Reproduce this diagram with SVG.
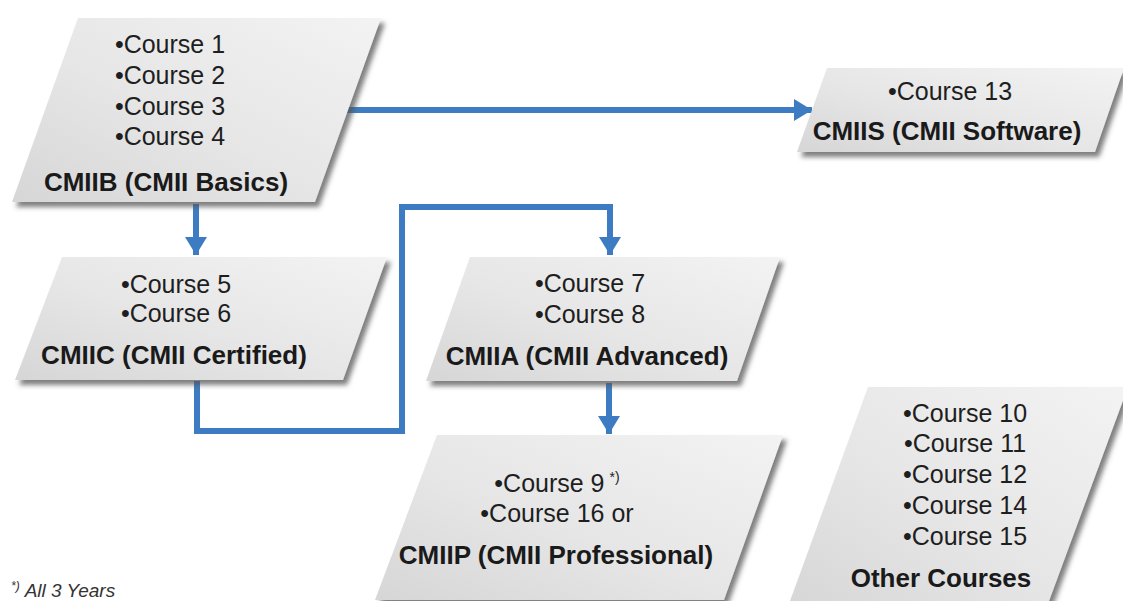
<svg xmlns="http://www.w3.org/2000/svg" width="1123" height="601" viewBox="0 0 1123 601">
  <style>
    .box { fill: url(#boxFill); filter: url(#boxShadow); }
    .item { font-family: "Liberation Sans", Arial, sans-serif; font-size: 25px; fill: #1e1e1e; text-anchor: middle; }
    .title { font-family: "Liberation Sans", Arial, sans-serif; font-size: 26px; font-weight: bold; fill: #1a1a1a; text-anchor: middle; }
    .sup { font-size: 14px; }
    .note { font-family: "Liberation Sans", Arial, sans-serif; font-size: 19px; font-style: italic; fill: #333333; }
    .link { fill: none; stroke: #3d7cc2; stroke-width: 6; stroke-linejoin: miter; }
  </style>
  <defs>
    <linearGradient id="boxFill" x1="0" y1="1" x2="1" y2="0">
      <stop offset="0" stop-color="#d6d6d6"/>
      <stop offset="0.45" stop-color="#e6e6e6"/>
      <stop offset="1" stop-color="#f3f3f3"/>
    </linearGradient>
    <filter id="boxShadow" x="-10%" y="-10%" width="125%" height="130%">
      <feDropShadow dx="4" dy="5" stdDeviation="2.5" flood-color="#555555" flood-opacity="0.75"/>
    </filter>
    <marker id="head" markerUnits="userSpaceOnUse" markerWidth="20" markerHeight="22" refX="18" refY="11" orient="auto">
      <path d="M0,0 L18,11 L0,22 Z" fill="#3d7cc2"/>
    </marker>
  </defs>

  <rect width="1123" height="601" fill="#ffffff"/>

  <!-- connectors -->
  <g id="connectors">
    <path class="link" d="M346,110 H812" marker-end="url(#head)"/>
    <path class="link" d="M196,204 V255" marker-end="url(#head)"/>
    <path class="link" d="M197,381 V431 H402 V207 H610 V255" marker-end="url(#head)"/>
    <path class="link" d="M609,383 V434" marker-end="url(#head)"/>
  </g>

  <!-- CMIIB -->
  <g id="cmiib">
    <polygon class="box" points="78,18 381,18 315,202 12,202"/>
    <text class="item" x="170" y="53">•Course 1</text>
    <text class="item" x="170" y="84">•Course 2</text>
    <text class="item" x="170" y="115">•Course 3</text>
    <text class="item" x="170" y="145">•Course 4</text>
    <text class="title" x="166" y="191">CMIIB (CMII Basics)</text>
  </g>

  <!-- CMIIS -->
  <g id="cmiis">
    <polygon class="box" points="827,68 1124,68 1095,152 797,152"/>
    <text class="item" x="950" y="100">•Course 13</text>
    <text class="title" x="947" y="140">CMIIS (CMII Software)</text>
  </g>

  <!-- CMIIC -->
  <g id="cmiic">
    <polygon class="box" points="62,257 387,257 343,380 15,380"/>
    <text class="item" x="176" y="293">•Course 5</text>
    <text class="item" x="176" y="322">•Course 6</text>
    <text class="title" x="174" y="364">CMIIC (CMII Certified)</text>
  </g>

  <!-- CMIIA -->
  <g id="cmiia">
    <polygon class="box" points="470,257 780,257 737,381 426,381"/>
    <text class="item" x="590" y="292">•Course 7</text>
    <text class="item" x="590" y="323">•Course 8</text>
    <text class="title" x="587" y="365">CMIIA (CMII Advanced)</text>
  </g>

  <!-- CMIIP -->
  <g id="cmiip">
    <polygon class="box" points="437,435 783,435 724,600 375,600"/>
    <text class="item" x="557" y="492">•Course 9<tspan class="sup" dx="5" dy="-10">*)</tspan></text>
    <text class="item" x="557" y="522">•Course 16 or</text>
    <text class="title" x="556" y="564">CMIIP (CMII Professional)</text>
  </g>

  <!-- Other courses -->
  <g id="other">
    <polygon class="box" points="868,387 1128,387 1045,612 786,612"/>
    <text class="item" x="965" y="422">•Course 10</text>
    <text class="item" x="965" y="452">•Course 11</text>
    <text class="item" x="965" y="483">•Course 12</text>
    <text class="item" x="965" y="514">•Course 14</text>
    <text class="item" x="965" y="545">•Course 15</text>
    <text class="title" x="941" y="587">Other Courses</text>
  </g>

  <!-- footnote -->
  <g id="footnote">
    <text class="note" x="11" y="597"><tspan font-size="12" dy="-7">*)</tspan><tspan dx="5" dy="7">All 3 Years</tspan></text>
  </g>
</svg>
